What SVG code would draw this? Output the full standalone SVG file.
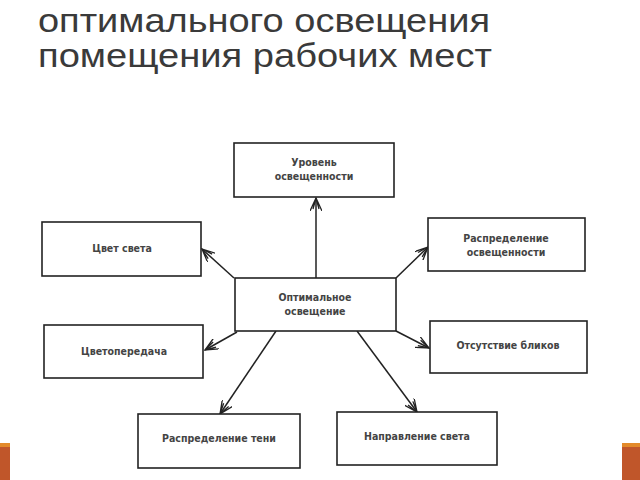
<svg xmlns="http://www.w3.org/2000/svg" width="640" height="480" viewBox="0 0 640 480">
<style>
.title{font-family:"Liberation Sans",Arial,sans-serif;font-size:33px;fill:#3a3a3a}
.box{fill:#fff;stroke:#222;stroke-width:1.6}
.lbl{font-family:"DejaVu Sans Condensed","DejaVu Sans",sans-serif;font-size:10.5px;font-weight:bold;fill:#444;text-anchor:middle}
.con{stroke:#222;stroke-width:1.5;fill:none;marker-end:url(#arr)}
.bar{fill:#c0562a}
.barTop{fill:#e38a2a}
</style>
<defs>
<marker id="arr" viewBox="0 0 14 12" refX="13" refY="6" markerWidth="14" markerHeight="12" markerUnits="userSpaceOnUse" orient="auto">
<path d="M0,0 L13,6 L0,12 M2,3 L13,6 L2,9" fill="none" stroke="#222" stroke-width="1.3"/>
</marker>
</defs>
<rect width="640" height="480" fill="#fff"/>
<text class="title" x="38" y="32" textLength="452" lengthAdjust="spacingAndGlyphs">оптимального освещения</text>
<text class="title" x="38" y="67" textLength="454" lengthAdjust="spacingAndGlyphs">помещения рабочих мест</text>
<g id="connectors">
<line class="con" x1="316" y1="278" x2="316" y2="198"/>
<line class="con" x1="234" y1="278" x2="202" y2="249"/>
<line class="con" x1="396" y1="278" x2="428" y2="247"/>
<line class="con" x1="237" y1="332" x2="205" y2="350"/>
<line class="con" x1="396" y1="331" x2="429" y2="348"/>
<line class="con" x1="276" y1="331" x2="220" y2="414"/>
<line class="con" x1="357" y1="331" x2="417" y2="412"/>
</g>
<g id="n-level"><rect class="box" x="234" y="143" width="160" height="54"/><text class="lbl" x="314" y="166">Уровень</text><text class="lbl" x="314" y="180">освещенности</text></g>
<g id="n-color"><rect class="box" x="42" y="222" width="159" height="54"/><text class="lbl" x="122" y="252">Цвет света</text></g>
<g id="n-distr"><rect class="box" x="428" y="218" width="157" height="53"/><text class="lbl" x="506" y="242">Распределение</text><text class="lbl" x="506" y="256">освещенности</text></g>
<g id="n-opt"><rect class="box" x="235" y="278" width="161" height="53"/><text class="lbl" x="315" y="301">Оптимальное</text><text class="lbl" x="315" y="315">освещение</text></g>
<g id="n-render"><rect class="box" x="44" y="325" width="159" height="53"/><text class="lbl" x="124" y="355">Цветопередача</text></g>
<g id="n-glare"><rect class="box" x="430" y="321" width="157" height="52"/><text class="lbl" x="508" y="349">Отсутствие бликов</text></g>
<g id="n-shadow"><rect class="box" x="138" y="414" width="162" height="54"/><text class="lbl" x="219" y="442">Распределение тени</text></g>
<g id="n-dir"><rect class="box" x="337" y="412" width="160" height="53"/><text class="lbl" x="417" y="440">Направление света</text></g>
<rect class="barTop" x="0" y="443" width="10" height="4"/>
<rect class="bar" x="0" y="447" width="10" height="33"/>
<rect class="barTop" x="622" y="443" width="18" height="4"/>
<rect class="bar" x="622" y="447" width="18" height="33"/>
</svg>
